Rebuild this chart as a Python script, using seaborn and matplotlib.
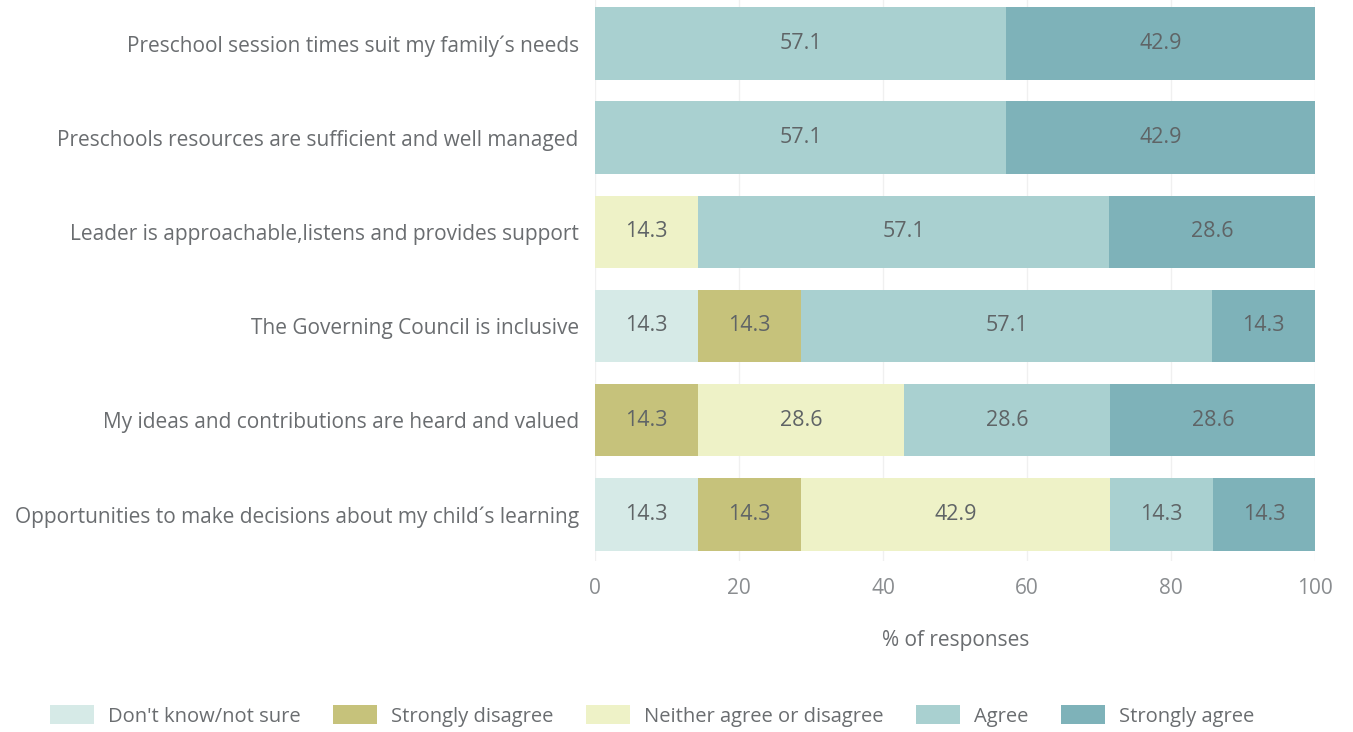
import matplotlib
matplotlib.use("Agg")
import matplotlib.pyplot as plt
import seaborn as sns
import numpy as np
import pandas as pd
from matplotlib.patches import Patch

categories = [
    "Preschool session times suit my family\u00b4s needs",
    "Preschools resources are sufficient and well managed",
    "Leader is approachable,listens and provides support",
    "The Governing Council is inclusive",
    "My ideas and contributions are heard and valued",
    "Opportunities to make decisions about my child\u00b4s learning",
]
series_names = ["Don't know/not sure", "Strongly disagree", "Neither agree or disagree",
                "Agree", "Strongly agree"]
dont_know = [0, 0, 0, 14.3, 0, 14.3]
strongly_disagree = [0, 0, 0, 14.3, 14.3, 14.3]
neither = [0, 0, 14.3, 0, 28.6, 42.9]
agree = [57.1, 57.1, 57.1, 57.1, 28.6, 14.3]
strongly_agree = [42.9, 42.9, 28.6, 14.3, 28.6, 14.3]
x_ticks = [0, 20, 40, 60, 80, 100]

colors = ["#d6eae7", "#c6c27b", "#eef2c7", "#a9d0d0", "#7eb2b9"]

sns.set_theme(style="white")
plt.rcParams['font.family'] = ['Open Sans', 'DejaVu Sans']

series = [dont_know, strongly_disagree, neither, agree, strongly_agree]
vals = np.array(series)
cum = np.cumsum(vals, axis=0)

fig = plt.figure(figsize=(13.53, 7.32), dpi=100)
ax = fig.add_axes([0.44, 0.233, 0.532, 0.772])

for i in range(len(series) - 1, -1, -1):
    df = pd.DataFrame({"cat": categories, "val": cum[i]})
    sns.barplot(data=df, y="cat", x="val", color=colors[i], orient="h",
                width=0.77, ax=ax, saturation=1, linewidth=0, zorder=2)

for i in range(len(series)):
    for j in range(len(categories)):
        v = vals[i, j]
        if v > 0:
            ax.text(cum[i, j] - v / 2, j, f"{v:.1f}", ha="center", va="center",
                    fontsize=15.5, color="#5f6466", zorder=3)

ax.set_xlim(0, 100)
ax.set_ylim(5.5, -0.5)
ax.set_xticks(x_ticks)
ax.set_xticklabels([str(t) for t in x_ticks], fontsize=15, color="#8a8d90")
ax.tick_params(axis="y", labelsize=15, labelcolor="#6a6d70", length=0, pad=12)
ax.tick_params(axis="x", length=0, pad=12)
ax.set_ylabel("")
ax.set_xlabel("% of responses", fontsize=15, color="#6a6d70", labelpad=22)
ax.grid(axis="x", color="#f0f0f0", linewidth=1, zorder=0)
ax.set_axisbelow(True)
for s in ax.spines.values():
    s.set_visible(False)

handles = [Patch(facecolor=c, edgecolor="none") for c in colors]
fig.legend(handles, series_names, loc="center", bbox_to_anchor=(0.482, 0.022), ncol=5,
           frameon=False, fontsize=14.5, handlelength=2.2, handleheight=1.1,
           columnspacing=1.6, handletextpad=0.7, labelcolor="#6a6d70")

fig.savefig("out.png", dpi=100)
